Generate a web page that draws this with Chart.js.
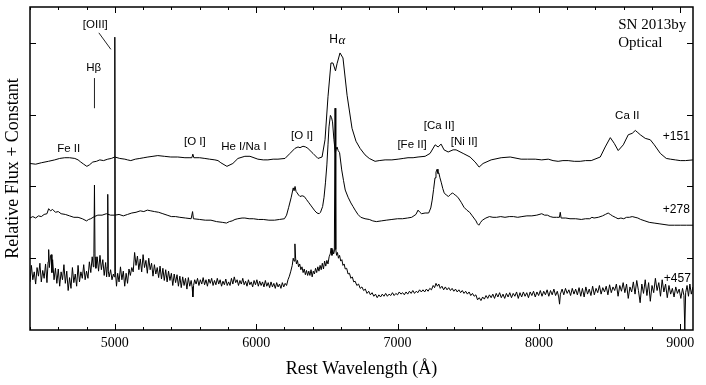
<!DOCTYPE html>
<html><head><meta charset="utf-8">
<script src="https://cdn.jsdelivr.net/npm/chart.js@4.4.1/dist/chart.umd.min.js"></script>
<style>html,body{margin:0;padding:0;background:#fff;}</style>
</head><body>
<canvas id="c" width="706" height="385"></canvas>
<script>
// ---- DATA (rest wavelength in Å, relative flux + constant) ----
const spectrum151 = [[4400,2.32],[4440,2.31],[4480,2.33],[4530,2.35],[4575,2.37],[4610,2.39],[4646,2.40],[4680,2.40],[4717,2.39],[4740,2.37],[4759,2.34],[4780,2.31],[4802,2.28],[4820,2.30],[4844,2.34],[4870,2.35],[4894,2.37],[4920,2.36],[4950,2.38],[4975,2.39],[5000,2.41],[5035,2.39],[5071,2.38],[5090,2.37],[5113,2.36],[5145,2.38],[5177,2.39],[5205,2.40],[5234,2.41],[5270,2.42],[5304,2.43],[5350,2.42],[5396,2.41],[5445,2.41],[5496,2.40],[5525,2.40],[5545,2.40],[5552,2.45],[5559,2.40],[5600,2.40],[5637,2.39],[5670,2.38],[5708,2.37],[5730,2.36],[5750,2.33],[5793,2.28],[5835,2.32],[5871,2.39],[5920,2.42],[5956,2.42],[6012,2.38],[6050,2.37],[6083,2.37],[6120,2.38],[6154,2.38],[6204,2.39],[6239,2.46],[6274,2.53],[6296,2.55],[6310,2.54],[6331,2.56],[6350,2.55],[6366,2.53],[6402,2.46],[6437,2.39],[6466,2.41],[6487,2.65],[6508,3.25],[6529,3.72],[6543,3.72],[6561,3.61],[6572,3.71],[6593,3.86],[6614,3.79],[6643,3.27],[6678,2.81],[6706,2.63],[6735,2.53],[6770,2.44],[6800,2.39],[6841,2.35],[6870,2.36],[6912,2.37],[6960,2.37],[7004,2.38],[7040,2.39],[7074,2.40],[7110,2.40],[7145,2.41],[7195,2.42],[7230,2.46],[7266,2.58],[7287,2.55],[7308,2.59],[7329,2.51],[7358,2.48],[7393,2.51],[7414,2.51],[7464,2.46],[7513,2.41],[7549,2.34],[7577,2.27],[7605,2.32],[7662,2.37],[7733,2.40],[7797,2.41],[7874,2.38],[7920,2.38],[7974,2.38],[8020,2.37],[8066,2.38],[8100,2.36],[8136,2.35],[8170,2.36],[8207,2.36],[8250,2.35],[8292,2.35],[8330,2.36],[8370,2.36],[8434,2.41],[8469,2.55],[8505,2.68],[8533,2.60],[8561,2.50],[8597,2.58],[8632,2.72],[8660,2.74],[8682,2.78],[8700,2.75],[8717,2.72],[8752,2.67],[8788,2.65],[8816,2.58],[8859,2.46],[8901,2.39],[8930,2.38],[8965,2.37],[9000,2.36],[9036,2.36],[9092,2.37]];

const spectrum278 = [[4400,1.56],[4420,1.58],[4440,1.56],[4460,1.59],[4480,1.58],[4500,1.61],[4520,1.62],[4532,1.69],[4545,1.66],[4560,1.68],[4580,1.64],[4600,1.65],[4620,1.62],[4650,1.61],[4680,1.59],[4710,1.57],[4740,1.57],[4770,1.55],[4800,1.52],[4815,1.54],[4830,1.55],[4855,1.58],[4880,1.60],[4910,1.60],[4940,1.62],[4970,1.60],[5000,1.60],[5030,1.61],[5060,1.59],[5090,1.61],[5120,1.63],[5150,1.64],[5180,1.66],[5205,1.65],[5230,1.67],[5255,1.66],[5280,1.65],[5310,1.64],[5340,1.62],[5370,1.60],[5400,1.58],[5430,1.58],[5460,1.57],[5500,1.56],[5540,1.55],[5550,1.65],[5556,1.55],[5600,1.54],[5640,1.53],[5680,1.53],[5720,1.51],[5760,1.50],[5790,1.49],[5810,1.51],[5830,1.52],[5850,1.54],[5870,1.55],[5900,1.56],[5920,1.56],[5950,1.55],[5980,1.55],[6015,1.54],[6050,1.54],[6090,1.53],[6130,1.53],[6165,1.54],[6200,1.55],[6215,1.60],[6230,1.71],[6248,1.85],[6262,1.98],[6268,1.94],[6275,2.00],[6282,1.93],[6290,1.91],[6300,1.88],[6310,1.86],[6325,1.87],[6340,1.86],[6355,1.82],[6370,1.78],[6385,1.74],[6400,1.70],[6415,1.66],[6430,1.63],[6445,1.62],[6455,1.64],[6470,1.72],[6480,1.85],[6490,2.05],[6500,2.30],[6508,2.58],[6515,2.83],[6525,2.99],[6533,2.96],[6540,2.90],[6550,2.65],[6560,2.47],[6566,2.52],[6572,2.55],[6580,2.50],[6590,2.47],[6605,2.23],[6618,2.08],[6630,1.95],[6650,1.85],[6670,1.77],[6685,1.72],[6700,1.67],[6720,1.61],[6740,1.57],[6770,1.55],[6800,1.54],[6825,1.52],[6850,1.51],[6885,1.52],[6920,1.53],[6960,1.54],[7000,1.55],[7035,1.55],[7070,1.56],[7100,1.57],[7130,1.61],[7145,1.67],[7158,1.64],[7170,1.62],[7195,1.63],[7220,1.63],[7235,1.70],[7245,1.81],[7255,1.96],[7265,2.12],[7272,2.20],[7280,2.24],[7286,2.18],[7292,2.19],[7300,2.12],[7310,2.05],[7320,1.97],[7330,1.91],[7345,1.88],[7360,1.86],[7375,1.89],[7390,1.91],[7400,1.89],[7410,1.88],[7430,1.84],[7450,1.78],[7470,1.71],[7490,1.67],[7510,1.64],[7525,1.60],[7540,1.56],[7555,1.52],[7565,1.48],[7575,1.46],[7588,1.50],[7600,1.53],[7625,1.56],[7650,1.58],[7675,1.57],[7700,1.57],[7730,1.58],[7760,1.57],[7790,1.58],[7820,1.58],[7850,1.57],[7880,1.58],[7915,1.59],[7950,1.59],[7985,1.60],[8020,1.62],[8040,1.60],[8060,1.60],[8080,1.58],[8100,1.57],[8125,1.57],[8145,1.57],[8151,1.64],[8157,1.56],[8190,1.56],[8220,1.55],[8260,1.55],[8300,1.54],[8330,1.55],[8360,1.55],[8375,1.57],[8390,1.56],[8420,1.57],[8450,1.59],[8470,1.61],[8490,1.63],[8505,1.61],[8520,1.59],[8540,1.57],[8560,1.55],[8580,1.56],[8600,1.55],[8620,1.57],[8640,1.57],[8660,1.58],[8680,1.57],[8700,1.56],[8720,1.54],[8750,1.52],[8780,1.50],[8815,1.49],[8850,1.48],[8885,1.47],[8920,1.46],[8960,1.46],[9000,1.46],[9045,1.46],[9090,1.46]];

const spectrum457 = [[4400,0.67],[4410,0.90],[4420,0.70],[4430,0.81],[4440,0.64],[4450,0.87],[4460,0.75],[4470,0.93],[4480,0.67],[4490,0.83],[4500,0.72],[4510,0.92],[4520,0.66],[4528,0.95],[4532,1.12],[4537,0.87],[4545,1.03],[4550,1.05],[4555,0.80],[4560,0.98],[4570,0.70],[4580,0.86],[4590,0.65],[4600,0.85],[4610,0.61],[4620,0.81],[4630,0.70],[4640,0.91],[4650,0.65],[4660,0.82],[4670,0.55],[4680,0.73],[4690,0.58],[4700,0.87],[4710,0.66],[4720,0.78],[4730,0.61],[4740,0.90],[4750,0.67],[4760,0.81],[4770,0.72],[4780,0.91],[4790,0.70],[4800,0.82],[4810,0.72],[4820,0.95],[4830,0.80],[4840,1.02],[4848,0.88],[4852,1.06],[4856,2.02],[4860,1.02],[4866,0.86],[4875,1.02],[4885,0.82],[4895,1.04],[4905,0.84],[4915,0.98],[4925,0.76],[4935,0.94],[4942,0.74],[4947,0.88],[4950,1.89],[4954,0.82],[4960,0.74],[4970,0.84],[4980,0.70],[4990,0.78],[4996,0.74],[5000,4.08],[5004,0.82],[5012,0.61],[5020,0.79],[5030,0.67],[5040,0.88],[5050,0.70],[5060,0.82],[5070,0.61],[5080,0.79],[5090,0.65],[5100,0.85],[5110,0.76],[5120,0.87],[5130,0.81],[5140,1.08],[5150,0.90],[5160,1.03],[5170,0.84],[5180,0.99],[5190,0.81],[5200,1.05],[5210,0.87],[5220,0.97],[5230,0.79],[5240,1.00],[5250,0.84],[5260,0.93],[5270,0.75],[5280,0.91],[5290,0.78],[5300,0.87],[5310,0.73],[5320,0.89],[5330,0.71],[5340,0.86],[5350,0.69],[5360,0.84],[5370,0.67],[5380,0.82],[5390,0.69],[5400,0.79],[5410,0.62],[5420,0.78],[5430,0.66],[5440,0.77],[5450,0.61],[5460,0.75],[5470,0.59],[5480,0.74],[5490,0.62],[5500,0.72],[5510,0.57],[5520,0.73],[5530,0.61],[5540,0.69],[5547,0.60],[5552,0.46],[5557,0.62],[5565,0.70],[5575,0.64],[5585,0.72],[5595,0.62],[5605,0.70],[5615,0.64],[5625,0.73],[5635,0.63],[5645,0.70],[5655,0.61],[5665,0.71],[5675,0.65],[5685,0.72],[5695,0.62],[5705,0.69],[5715,0.63],[5725,0.72],[5735,0.64],[5745,0.70],[5755,0.61],[5765,0.68],[5775,0.63],[5785,0.71],[5795,0.62],[5805,0.67],[5815,0.62],[5825,0.72],[5835,0.64],[5845,0.74],[5855,0.66],[5865,0.70],[5875,0.62],[5885,0.69],[5895,0.64],[5905,0.72],[5915,0.63],[5925,0.68],[5935,0.61],[5945,0.70],[5955,0.63],[5965,0.67],[5975,0.60],[5985,0.69],[5995,0.63],[6005,0.70],[6015,0.61],[6025,0.68],[6035,0.62],[6045,0.67],[6055,0.60],[6065,0.69],[6075,0.61],[6085,0.66],[6095,0.59],[6105,0.67],[6115,0.60],[6125,0.65],[6135,0.58],[6145,0.66],[6155,0.60],[6165,0.64],[6175,0.58],[6185,0.66],[6195,0.60],[6205,0.65],[6215,0.62],[6225,0.70],[6235,0.75],[6245,0.82],[6255,0.90],[6262,1.00],[6268,0.96],[6274,1.20],[6279,1.00],[6285,0.92],[6292,0.97],[6300,0.88],[6308,0.92],[6316,0.84],[6324,0.88],[6332,0.80],[6340,0.85],[6348,0.77],[6356,0.83],[6364,0.76],[6372,0.82],[6380,0.76],[6388,0.84],[6396,0.74],[6404,0.82],[6412,0.78],[6420,0.86],[6428,0.80],[6436,0.88],[6444,0.82],[6452,0.90],[6460,0.84],[6468,0.93],[6476,0.85],[6484,0.96],[6492,0.89],[6500,0.97],[6508,0.92],[6516,1.02],[6524,1.06],[6530,1.14],[6536,1.04],[6542,1.12],[6548,1.06],[6553,1.10],[6558,3.09],[6563,1.12],[6569,1.04],[6575,1.08],[6582,1.00],[6590,1.04],[6598,0.96],[6606,0.98],[6614,0.90],[6622,0.92],[6630,0.85],[6640,0.86],[6650,0.78],[6660,0.79],[6670,0.72],[6680,0.74],[6690,0.67],[6700,0.68],[6712,0.62],[6724,0.64],[6736,0.58],[6748,0.60],[6760,0.55],[6772,0.57],[6784,0.51],[6796,0.54],[6808,0.49],[6820,0.52],[6832,0.47],[6844,0.50],[6856,0.45],[6868,0.49],[6880,0.46],[6892,0.50],[6904,0.47],[6916,0.51],[6928,0.47],[6940,0.50],[6952,0.48],[6964,0.52],[6976,0.48],[6988,0.51],[7000,0.49],[7012,0.53],[7024,0.50],[7036,0.52],[7048,0.49],[7060,0.53],[7072,0.50],[7084,0.54],[7096,0.51],[7108,0.55],[7120,0.51],[7132,0.54],[7144,0.52],[7156,0.56],[7168,0.53],[7180,0.56],[7192,0.53],[7204,0.57],[7216,0.54],[7228,0.58],[7240,0.56],[7252,0.62],[7262,0.59],[7272,0.65],[7282,0.61],[7292,0.64],[7302,0.58],[7314,0.61],[7326,0.56],[7338,0.60],[7350,0.56],[7362,0.59],[7374,0.55],[7386,0.58],[7398,0.54],[7410,0.57],[7422,0.53],[7434,0.56],[7446,0.52],[7458,0.55],[7470,0.51],[7482,0.54],[7494,0.50],[7506,0.53],[7518,0.48],[7530,0.51],[7542,0.47],[7554,0.49],[7566,0.42],[7578,0.45],[7590,0.41],[7602,0.46],[7614,0.43],[7626,0.48],[7638,0.44],[7650,0.49],[7662,0.45],[7674,0.50],[7686,0.44],[7698,0.51],[7710,0.46],[7722,0.52],[7734,0.45],[7746,0.50],[7758,0.44],[7770,0.51],[7782,0.46],[7794,0.52],[7806,0.45],[7818,0.51],[7830,0.47],[7842,0.53],[7854,0.44],[7866,0.52],[7878,0.46],[7890,0.53],[7902,0.47],[7914,0.52],[7926,0.45],[7938,0.53],[7950,0.48],[7962,0.54],[7974,0.46],[7986,0.53],[7998,0.48],[8010,0.55],[8022,0.47],[8034,0.54],[8046,0.49],[8058,0.56],[8070,0.47],[8082,0.55],[8094,0.49],[8106,0.57],[8118,0.48],[8130,0.54],[8140,0.46],[8146,0.36],[8152,0.50],[8164,0.57],[8176,0.49],[8188,0.58],[8200,0.51],[8212,0.56],[8224,0.48],[8236,0.58],[8248,0.50],[8260,0.57],[8272,0.49],[8284,0.59],[8296,0.47],[8308,0.58],[8320,0.46],[8332,0.60],[8344,0.50],[8356,0.57],[8368,0.48],[8380,0.61],[8392,0.49],[8404,0.58],[8416,0.52],[8428,0.62],[8440,0.50],[8452,0.59],[8464,0.53],[8476,0.61],[8488,0.49],[8500,0.63],[8512,0.52],[8524,0.60],[8536,0.55],[8548,0.64],[8560,0.47],[8572,0.62],[8584,0.54],[8596,0.66],[8608,0.52],[8620,0.64],[8632,0.44],[8644,0.60],[8656,0.53],[8668,0.67],[8680,0.50],[8692,0.69],[8704,0.55],[8716,0.38],[8728,0.64],[8740,0.51],[8752,0.70],[8764,0.48],[8776,0.66],[8788,0.40],[8800,0.62],[8812,0.52],[8824,0.72],[8836,0.55],[8848,0.66],[8860,0.47],[8872,0.70],[8884,0.53],[8896,0.64],[8908,0.45],[8920,0.62],[8932,0.50],[8944,0.58],[8956,0.46],[8968,0.60],[8980,0.51],[8992,0.57],[9004,0.44],[9016,0.58],[9026,0.48],[9032,0.00],[9038,0.52],[9048,0.62],[9058,0.47],[9068,0.64],[9078,0.50],[9090,0.60]];

const xTickLabels = [5000, 6000, 7000, 8000, 9000];
const yTickValues = [1, 2, 3, 4];
const epochLabels = ['+151', '+278', '+457'];
const epochLabelPos = [[8972, 2.69], [8972, 1.67], [8979, 0.72]];
const lineIds = ['Fe II', '[O I]', 'He I/Na I', '[O I]', '[Fe II]', '[Ca II]', '[Ni II]', 'Ca II', '[OIII]', 'Hβ'];
const lineIdPos = [[4674, 2.53], [5566, 2.62], [5913, 2.55], [6324, 2.70], [7103, 2.58], [7294, 2.84], [7471, 2.62], [8625, 2.99], [4862, 4.25], [4851, 3.65]];
const titleLines = ['SN 2013by', 'Optical'];

// ---- drawing helpers ----
const toXY = arr => arr.map(p => ({x: p[0], y: p[1]}));

const frameTicks = {
  id: 'frameTicks',
  afterDraw(chart) {
    const {ctx, chartArea: a, scales: {x, y}} = chart;
    const px = v => x.getPixelForValue(v), py = v => y.getPixelForValue(v);
    ctx.save();
    ctx.strokeStyle = '#000';
    ctx.lineWidth = 1;
    ctx.beginPath();
    x.ticks.forEach(t => {
      const X = Math.round(px(t.value)) + 0.5;
      const len = (t.value % 1000 === 0) ? 6 : 3;
      ctx.moveTo(X, a.bottom); ctx.lineTo(X, a.bottom - len);
      ctx.moveTo(X, a.top); ctx.lineTo(X, a.top + len);
    });
    yTickValues.forEach(v => {
      const Y = Math.round(py(v)) + 0.5;
      ctx.moveTo(a.left, Y); ctx.lineTo(a.left + 6, Y);
      ctx.moveTo(a.right, Y); ctx.lineTo(a.right - 6, Y);
    });
    ctx.stroke();
    ctx.lineWidth = 1.5;
    ctx.strokeRect(a.left, a.top, a.right - a.left, a.bottom - a.top);

    ctx.fillStyle = '#000';
    ctx.textAlign = 'center';
    ctx.textBaseline = 'middle';
    ctx.font = '11.5px "Liberation Sans", Arial, sans-serif';
    lineIds.forEach((s, i) => ctx.fillText(s, px(lineIdPos[i][0]), py(lineIdPos[i][1])));
    ctx.font = '12px "Liberation Sans", Arial, sans-serif';
    epochLabels.forEach((s, i) => ctx.fillText(s, px(epochLabelPos[i][0]), py(epochLabelPos[i][1])));

    const hx = px(6572), hy = py(4.04);
    ctx.font = '12px "Liberation Sans", Arial, sans-serif';
    const wH = ctx.measureText('H').width;
    ctx.font = 'italic 13px "Liberation Serif", serif';
    const wA = ctx.measureText('α').width;
    const x0 = hx - (wH + wA) / 2;
    ctx.textAlign = 'left';
    ctx.font = '12px "Liberation Sans", Arial, sans-serif';
    ctx.fillText('H', x0, hy);
    ctx.font = 'italic 13px "Liberation Serif", serif';
    ctx.fillText('α', x0 + wH + 0.5, hy + 1);

    ctx.lineWidth = 1;
    ctx.strokeStyle = '#222';
    ctx.beginPath();
    ctx.moveTo(px(4856), py(3.51)); ctx.lineTo(px(4856), py(3.09));
    ctx.moveTo(px(4887), py(4.14)); ctx.lineTo(px(4972), py(3.91));
    ctx.stroke();

    ctx.font = '15px "Liberation Serif", "Times New Roman", serif';
    ctx.textAlign = 'left';
    ctx.fillText(titleLines[0], px(8561), py(4.25));
    ctx.fillText(titleLines[1], px(8561), py(4.00));
    ctx.restore();
  }
};

const mk = (arr) => ({data: toXY(arr), borderColor: '#000', borderWidth: 1, pointRadius: 0, tension: 0, fill: false});

new Chart(document.getElementById('c'), {
  type: 'line',
  data: {datasets: [mk(spectrum151), mk(spectrum278), mk(spectrum457)]},
  options: {
    responsive: false, animation: false, devicePixelRatio: 1,
    layout: {padding: {top: 7, right: 13, left: 0, bottom: 0}},
    plugins: {legend: {display: false}, tooltip: {enabled: false}},
    scales: {
      x: {
        type: 'linear', min: 4400, max: 9090,
        afterFit(s) { s.height = 55; },
        grid: {display: false, drawTicks: false},
        border: {display: false},
        ticks: {stepSize: 200, autoSkip: false, includeBounds: false, maxRotation: 0, padding: 5,
          font: {family: '"Liberation Serif", serif', size: 14}, color: '#000',
          callback: v => xTickLabels.includes(v) ? String(v) : ''},
        title: {display: true, text: 'Rest Wavelength (Å)', color: '#000',
          font: {family: '"Liberation Serif", serif', size: 18}, padding: {top: 0, bottom: 5}}
      },
      y: {
        min: 0, max: 4.5,
        afterFit(s) { s.width = 30; },
        grid: {display: false, drawTicks: false},
        border: {display: false},
        ticks: {stepSize: 1, display: false},
        title: {display: true, text: 'Relative Flux + Constant', color: '#000',
          font: {family: '"Liberation Serif", serif', size: 18}, padding: {top: 2, bottom: 0}}
      }
    }
  },
  plugins: [frameTicks]
});
</script>
</body></html>
